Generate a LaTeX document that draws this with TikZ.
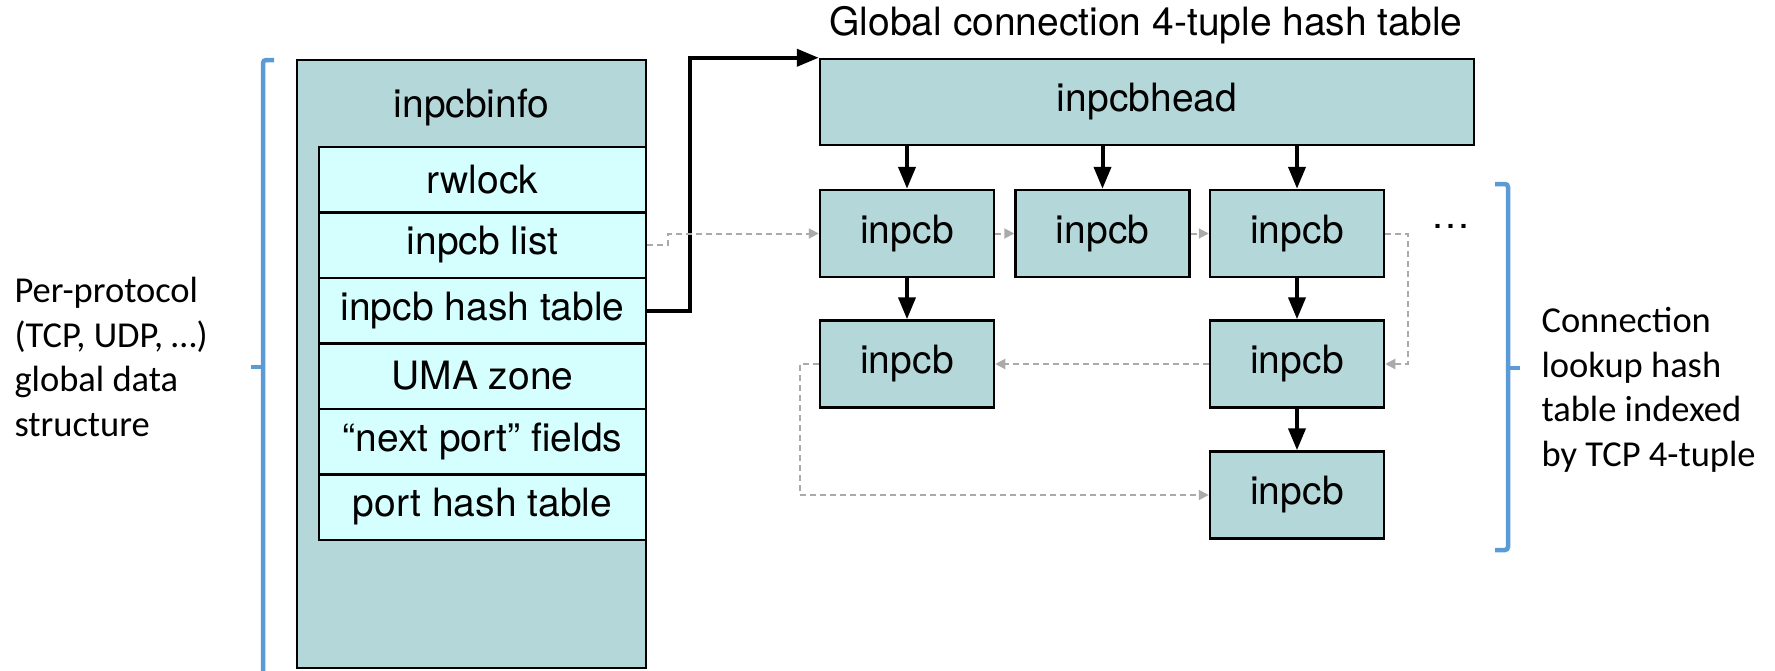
\documentclass[tikz,border=0pt]{standalone}
\usepackage{fontspec}
\setmainfont{TeX Gyre Heros}
\newfontfamily\calib{Carlito}
\usetikzlibrary{arrows.meta}
\definecolor{teal1}{RGB}{180,215,217}
\definecolor{cyan1}{RGB}{213,255,255}
\definecolor{brblue}{RGB}{91,155,213}
\definecolor{dgray}{RGB}{170,170,170}
\tikzset{
  x=1pt,y=-1pt,
  hfont/.style={font=\fontsize{39}{46}\selectfont},
  cfont/.style={font=\calib\fontsize{36.5}{44.5}\selectfont},
  outerbox/.style={draw=black,line width=2.5pt,fill=teal1,rectangle,inner sep=0pt},
  rowbox/.style={draw=black,line width=2.5pt,fill=cyan1,rectangle,inner sep=0pt,
     minimum width=327pt,minimum height=65.5pt,hfont},
  pcb/.style={draw=black,line width=2.5pt,fill=teal1,rectangle,inner sep=0pt,
     minimum width=174pt,minimum height=87pt,hfont},
  blkarrow/.style={line width=4pt,-{Triangle[length=22pt,width=17pt]}},
  grayarrow/.style={draw=dgray,line width=2pt,dash pattern=on 6pt off 4pt,
     -{Triangle[length=10pt,width=10pt]}},
  brk/.style={draw=brblue,line width=4.5pt,rounded corners=3pt},
}
\begin{document}
\begin{tikzpicture}
\useasboundingbox (0,0) rectangle (1775,670);
% left structure
\node[outerbox,minimum width=349pt,minimum height=608pt] (info) at (471.5,364) {};
\node[hfont] (infolbl) at (471.5,107) {inpcbinfo};
\node[rowbox] (rw) at (482.5,179.5) {rwlock};
\node[rowbox] (list) at (482.5,245) {inpcb list};
\node[rowbox] (hash) at (482.5,310.5) {inpcb hash table};
\node[rowbox] (uma) at (482.5,376) {UMA zone};
\node[rowbox] (next) at (482.5,441.5) {“next port” fields};
\node[rowbox] (port) at (482.5,507) {port hash table};
% title
\node[hfont] (title) at (1146,25) {Global connection 4-tuple hash table};
% hash table
\node[pcb,minimum width=654pt,minimum height=86pt] (head) at (1147,102) {inpcbhead};
\node[pcb] (b1) at (907,233.5) {inpcb};
\node[pcb] (b2) at (1102.5,233.5) {inpcb};
\node[pcb] (b3) at (1297,233.5) {inpcb};
\node[pcb] (b4) at (907,364) {inpcb};
\node[pcb] (b5) at (1297,364) {inpcb};
\node[pcb] (b6) at (1297,495) {inpcb};
\node[hfont] (dots) at (1451,226) {…};
% black arrows
\coordinate (bend) at (690,310.5);
\draw[blkarrow] (hash.east) -- (bend) |- (head.north west);
\draw[blkarrow] (head.south -| b1) -- (b1.north);
\draw[blkarrow] (head.south -| b2) -- (b2.north);
\draw[blkarrow] (head.south -| b3) -- (b3.north);
\draw[blkarrow] (b1.south) -- (b4.north);
\draw[blkarrow] (b3.south) -- (b5.north);
\draw[blkarrow] (b5.south) -- (b6.north);
% gray dashed arrows
\coordinate (s1) at (668,245);
\draw[grayarrow] (list.east) -- (s1) |- (b1.west);
\draw[grayarrow] (b1.east) -- (b2.west);
\draw[grayarrow] (b2.east) -- (b3.west);
\coordinate (s2) at (1408,233.5);
\draw[grayarrow] (b3.east) -- (s2) |- (b5.east);
\draw[grayarrow] (b5.west) -- (b4.east);
\coordinate (s3) at (800,364);
\draw[grayarrow] (b4.west) -- (s3) |- (b6.west);
% brackets
\draw[brk] (274,60) -- (263,60) -- (263,690);
\draw[brk] (263,367) -- (251,367);
\draw[brk] (1495,184) -- (1508,184) -- (1508,550) -- (1495,550);
\draw[brk] (1508,368) -- (1520,368);
% side texts
\node[cfont,align=left,anchor=west] (lefttxt) at (11,357) {Per-protocol\\(TCP, UDP, …)\\global data\\structure};
\node[cfont,align=left,anchor=west] (righttxt) at (1538,390) {Connection\\lookup hash\\table indexed\\by TCP 4-tuple};
\end{tikzpicture}
\end{document}
